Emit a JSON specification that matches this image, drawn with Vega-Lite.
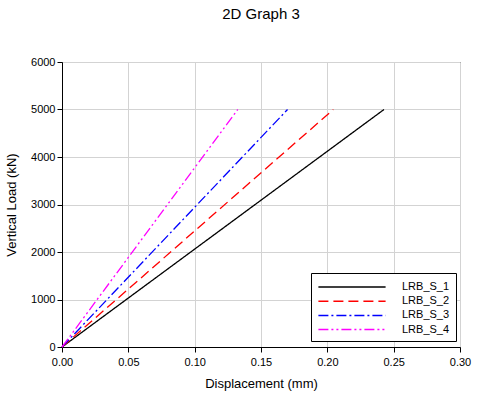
{
  "$schema": "https://vega.github.io/schema/vega-lite/v6.json",
  "autosize": {"type": "none"},
  "width": 398,
  "height": 285,
  "padding": {"left": 62, "top": 62, "right": 40, "bottom": 51},
  "title": {"text": "2D Graph 3", "font": "Liberation Sans", "fontSize": 15, "fontWeight": "normal", "anchor": "middle", "offset": 34, "color": "black"},
  "config": {
    "view": {"stroke": "black", "strokeWidth": 1},
    "font": "Liberation Sans",
    "axis": {
      "domainColor": "black", "tickColor": "black", "labelColor": "black", "titleColor": "black",
      "gridColor": "#d3d3d3", "gridWidth": 1, "labelFont": "Liberation Sans", "labelFontSize": 11,
      "titleFont": "Liberation Sans", "titleFontSize": 13, "titleFontWeight": "normal", "tickSize": 5, "labelFlush": false
    }
  },
  "data": {"values": [
    {"series": "LRB_S_1", "x": 0.0, "y": 0},
    {"series": "LRB_S_1", "x": 0.0485, "y": 1000},
    {"series": "LRB_S_1", "x": 0.2427, "y": 5000},
    {"series": "LRB_S_2", "x": 0.0, "y": 0},
    {"series": "LRB_S_2", "x": 0.041, "y": 1000},
    {"series": "LRB_S_2", "x": 0.2045, "y": 5000},
    {"series": "LRB_S_3", "x": 0.0, "y": 0},
    {"series": "LRB_S_3", "x": 0.034, "y": 1000},
    {"series": "LRB_S_3", "x": 0.170, "y": 5000},
    {"series": "LRB_S_4", "x": 0.0, "y": 0},
    {"series": "LRB_S_4", "x": 0.0265, "y": 1000},
    {"series": "LRB_S_4", "x": 0.1325, "y": 5000}
  ]},
  "mark": {"type": "line", "strokeWidth": 1.3},
  "encoding": {
    "x": {"field": "x", "type": "quantitative", "scale": {"domain": [0, 0.3], "nice": false},
      "axis": {"title": "Displacement (mm)", "values": [0, 0.05, 0.1, 0.15, 0.2, 0.25, 0.3], "format": ".2f", "titlePadding": 10, "labelPadding": 4}},
    "y": {"field": "y", "type": "quantitative", "scale": {"domain": [0, 6000], "nice": false},
      "axis": {"title": "Vertical Load (kN)", "values": [0, 1000, 2000, 3000, 4000, 5000, 6000], "format": "d", "titlePadding": 12}},
    "color": {"field": "series", "type": "nominal",
      "scale": {"domain": ["LRB_S_1", "LRB_S_2", "LRB_S_3", "LRB_S_4"], "range": ["#000000", "#ff0000", "#0000ff", "#ff00ff"]},
      "legend": {"title": null, "orient": "none", "legendX": 249, "legendY": 211, "symbolType": "M-4.8,0H4.8", "symbolSize": 196, "symbolStrokeWidth": 1.5,
        "symbolOffset": 27, "strokeColor": "black", "fillColor": "white", "padding": 6, "labelFont": "Liberation Sans", "labelFontSize": 11, "labelColor": "black", "rowPadding": 1.2, "labelOffset": 42}},
    "strokeDash": {"field": "series", "type": "nominal",
      "scale": {"domain": ["LRB_S_1", "LRB_S_2", "LRB_S_3", "LRB_S_4"], "range": [[1, 0], [10, 5], [10, 3, 2, 3], [10, 3, 2, 3, 2, 3]]},
      "legend": null}
  }
}
